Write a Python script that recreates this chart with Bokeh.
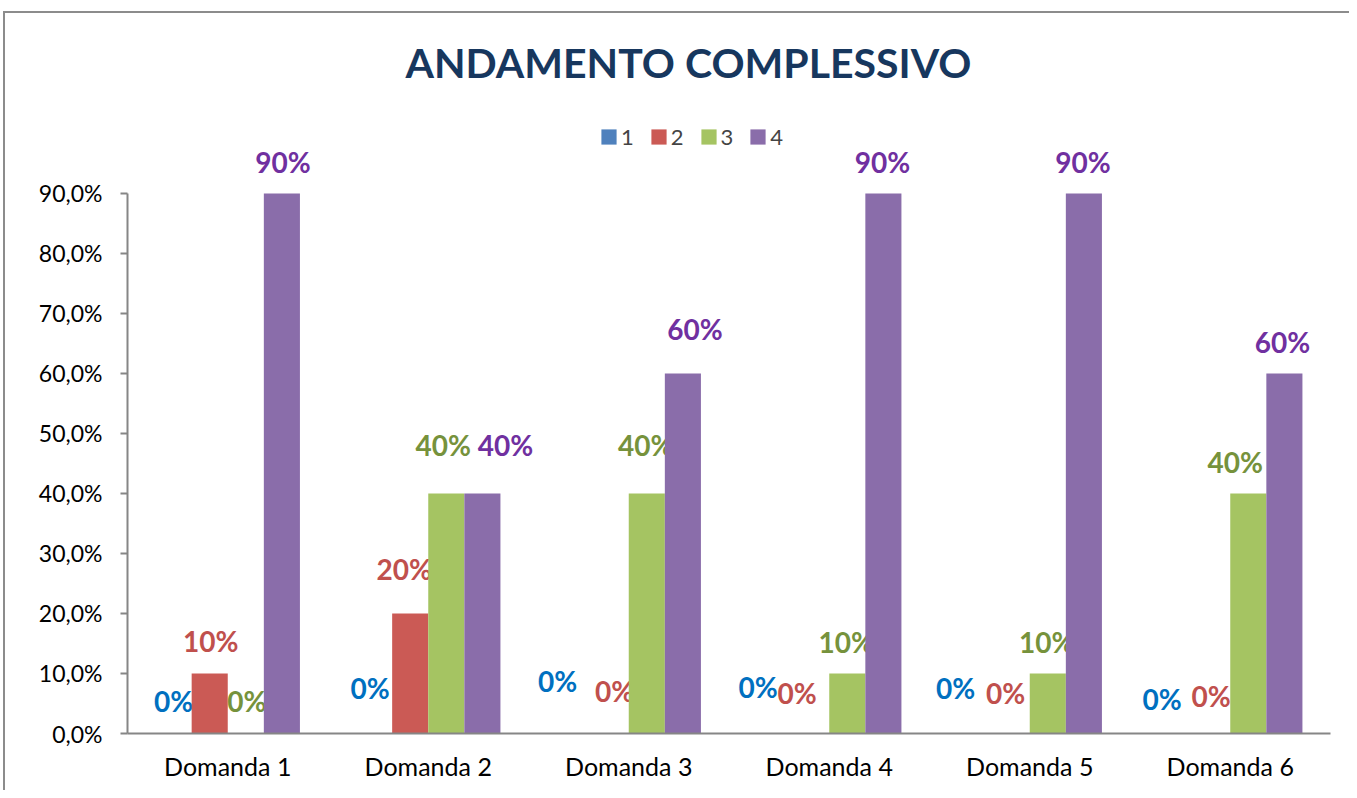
from bokeh.plotting import figure
from bokeh.models import FactorRange, Range1d, FixedTicker, ColumnDataSource
from bokeh.transform import dodge
from bokeh.core.properties import value
from bokeh.embed import file_html
from bokeh.resources import INLINE

# ---- data ----
categories = ["Domanda 1", "Domanda 2", "Domanda 3", "Domanda 4", "Domanda 5", "Domanda 6"]
series_names = ["1", "2", "3", "4"]
serie_1 = [0, 0, 0, 0, 0, 0]
serie_2 = [10, 20, 0, 0, 0, 0]
serie_3 = [0, 40, 40, 10, 10, 40]
serie_4 = [90, 40, 60, 90, 90, 60]
y_ticks = [0, 10, 20, 30, 40, 50, 60, 70, 80, 90]
y_tick_labels = ["0,0%", "10,0%", "20,0%", "30,0%", "40,0%", "50,0%", "60,0%", "70,0%", "80,0%", "90,0%"]

# ---- styles ----
bar_colors = ["#4F81BD", "#CB5A55", "#A5C462", "#8A6DAA"]
label_colors = ["#0070C0", "#C0504D", "#76923C", "#7030A0"]
offsets = [-0.27, -0.09, 0.09, 0.27]
# manual label nudges (pixels): horizontal shift, rise above bar top
label_dx = [[0, -4, -17, -17, -20, -14],
            [1, -6, 4, -14, -6, -1],
            [1, -3, -1, -1, -1, -13],
            [1, 23, 12, -1, -1, -2]]
label_rise = [[33, 46, 53, 47, 46, 35],
              [32, 44, 43, 41, 41, 38],
              [33, 48, 48, 31, 31, 31],
              [31, 48, 44, 31, 31, 31]]
FONT = "Lato"

p = figure(width=1349, height=790, x_range=FactorRange(*categories),
           y_range=Range1d(0, 103.83), output_backend="svg", toolbar_location=None,
           min_border_left=127, min_border_right=19, min_border_bottom=57, min_border_top=110)

p.title.text = "ANDAMENTO COMPLESSIVO"
p.title.text_font = FONT
p.title.text_font_style = "bold"
p.title.text_font_size = "41px"
p.title.text_color = "#17375E"
p.title.align = "left"
p.title.offset = 278
p.title.standoff = 47

p.outline_line_color = None
p.xgrid.grid_line_color = None
p.ygrid.grid_line_color = None
p.background_fill_color = "white"
p.border_fill_alpha = 0
# chart-area frame (gray line on the left and top edge)
p.styles = {"box-shadow": "inset 3px 0 0 0 #ffffff, inset 0 11px 0 0 #ffffff, "
                          "inset 5px 0 0 0 #8c8c8c, inset 0 13px 0 0 #8c8c8c"}

all_series = [serie_1, serie_2, serie_3, serie_4]
for i, vals in enumerate(all_series):
    src = ColumnDataSource(dict(
        cat=categories,
        v=vals,
        lab=[f"{v}%" for v in vals],
        dx=label_dx[i],
        dy=[-r for r in label_rise[i]],
    ))
    p.vbar(x=dodge("cat", offsets[i], range=p.x_range), top="v", width=0.18, source=src,
           fill_color=bar_colors[i], line_color=None, legend_label=series_names[i])
    p.text(x=dodge("cat", offsets[i], range=p.x_range), y="v", text="lab", source=src,
           x_offset="dx", y_offset="dy", text_font=value(FONT), text_font_style="bold",
           text_font_size="28px", text_color=label_colors[i], text_align="center",
           text_baseline="middle")

# axes
p.yaxis.ticker = FixedTicker(ticks=y_ticks)
p.yaxis.major_label_overrides = {t: l for t, l in zip(y_ticks, y_tick_labels)}
p.yaxis.bounds = (0, 90)
p.yaxis.minor_tick_line_color = None
p.yaxis.major_tick_in = 0
p.yaxis.major_tick_out = 7
for ax in (p.xaxis, p.yaxis):
    ax.axis_line_color = "#868686"
    ax.axis_line_width = 2
    ax.major_tick_line_color = "#868686"
    ax.major_tick_line_width = 2
    ax.major_label_text_font = FONT
    ax.major_label_text_color = "#000000"
p.yaxis.major_label_text_font_size = "23px"
p.yaxis.major_label_standoff = 18
p.xaxis.major_label_text_font_size = "25px"
p.xaxis.major_tick_line_color = None
p.xaxis.major_label_standoff = 11

# legend
lg = p.legend[0]
lg.location = (472, 583)
lg.orientation = "horizontal"
lg.border_line_color = None
lg.background_fill_alpha = 0
lg.label_text_font = FONT
lg.label_text_font_size = "22px"
lg.glyph_width = 19
lg.glyph_height = 19
lg.label_width = 12
lg.label_standoff = 3
lg.spacing = 15
lg.padding = 5
lg.margin = 0

open("out.html", "w").write(file_html(p, INLINE))
